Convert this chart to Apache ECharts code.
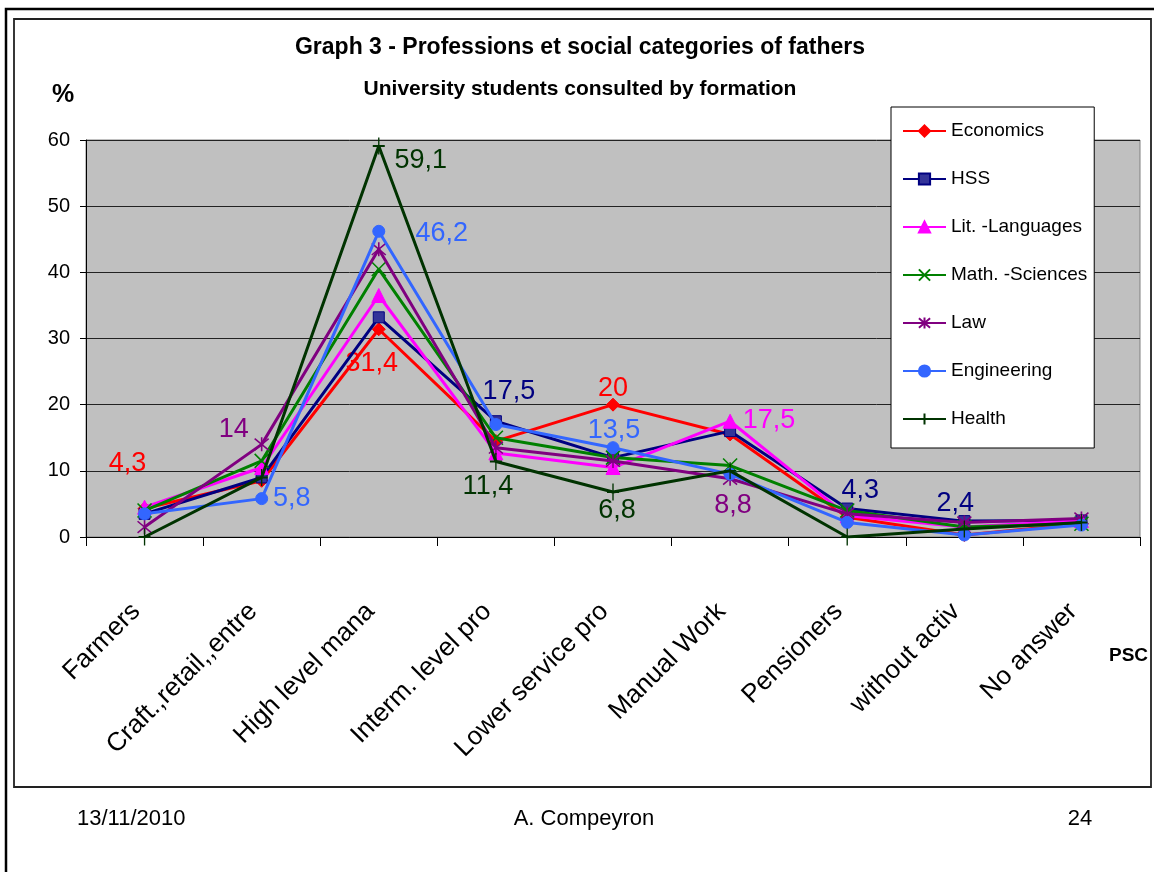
<!DOCTYPE html>
<html>
<head>
<meta charset="utf-8">
<script src="https://cdn.jsdelivr.net/npm/echarts@6/dist/echarts.min.js"></script>
<style>
html,body{margin:0;padding:0;background:#fff;}
#chart{width:1154px;height:872px;}
</style>
</head>
<body>
<div id="chart"></div>
<script>
// ---- data ----
const categories = ["Farmers", "Craft.,retail,,entre", "High level mana", "Interm. level pro", "Lower service pro", "Manual Work", "Pensioners", "without activ", "No answer"];
const seriesNames = ["Economics", "HSS", "Lit. -Languages", "Math. -Sciences", "Law", "Engineering", "Health"];
const economics   = [4.3, 8.5, 31.4, 14.5, 20, 15.5, 3, 0.3, 2];
const hss         = [3.5, 9, 33.2, 17.5, 12, 16, 4.3, 2.4, 2.5];
const literature  = [4.5, 10.5, 36.5, 12.7, 10.5, 17.5, 3.2, 1.5, 2.5];
const mathSci     = [4, 11.5, 40.5, 15, 12, 10.8, 4, 1.5, 2];
const law         = [1.5, 14, 43.5, 13.5, 11.5, 8.8, 3.5, 2.2, 2.8];
const engineering = [3.5, 5.8, 46.2, 17, 13.5, 9.5, 2.2, 0.3, 1.8];
const health      = [0, 9, 59.1, 11.4, 6.8, 10, 0, 1.2, 2.2];
const yTicks = [0, 10, 20, 30, 40, 50, 60];

// ---- styling ----
const FONT = '"Liberation Sans", Arial, sans-serif';

const styles = [
  {data: economics,   color: '#FF0000', symbol: 'diamond', size: 13, fill: '#FF0000'},
  {data: hss,         color: '#000080', symbol: 'rect', size: 11, fill: '#333399'},
  {data: literature,  color: '#FF00FF', symbol: 'triangle', size: 14, fill: '#FF00FF'},
  {data: mathSci,     color: '#008000', symbol: 'path://M0 0L10 10M10 0L0 10', size: 14, stroke: true},
  {data: law,         color: '#800080', symbol: 'path://M0 0L10 10M10 0L0 10M5 -1L5 11', size: 14, stroke: true},
  {data: engineering, color: '#3366FF', symbol: 'circle', size: 12, fill: '#3366FF'},
  {data: health,      color: '#003300', symbol: 'path://M6 0L6 16M0 8L12 8', size: [12, 17], stroke: true}
];

// which points carry a value label, with offsets from the point
const labelSpec = [
  {0: [-17, -45], 2: [-7, 34], 4: [0, -16]},
  {3: [13, -30], 6: [13, -18], 7: [-9, -18]},
  {5: [39, -1]},
  {},
  {1: [-28, -15], 5: [3, 27]},
  {1: [30, 0], 2: [63, 2], 4: [1, -17]},
  {2: [42, 15], 3: [-8, 25], 4: [4, 19]}
];

function fmt(v) { return String(v).replace('.', ','); }

const series = styles.map((s, si) => ({
  name: seriesNames[si],
  type: 'line',
  data: s.data.map((v, i) => {
    const spec = labelSpec[si][i];
    if (!spec) return v;
    return {
      value: v,
      label: {
        show: true, position: 'inside', offset: spec,
        formatter: p => fmt(p.value),
        color: s.color, fontFamily: FONT, fontSize: 27
      }
    };
  }),
  symbol: s.symbol,
  symbolSize: s.size,
  showAllSymbol: true,
  lineStyle: {color: s.color, width: 3},
  itemStyle: s.stroke
    ? {color: s.color, borderColor: s.color, borderWidth: 1.6}
    : {color: s.fill, borderColor: s.color, borderWidth: 1},
  emphasis: {disabled: true},
  animation: false,
  z: 2 + si
}));

const chart = echarts.init(document.getElementById('chart'), null, {renderer: 'canvas'});
chart.setOption({
  backgroundColor: '#fff',
  animation: false,
  grid: {
    left: 86, top: 140, right: 14, bottom: 335,
    show: true, backgroundColor: '#C0C0C0', borderColor: '#808080', borderWidth: 1,
    outerBoundsMode: 'none', containLabel: false
  },
  legend: {
    orient: 'vertical', left: 891, top: 107,
    padding: [13, 7, 18, 11],
    itemWidth: 43, itemHeight: 14, itemGap: 26,
    backgroundColor: '#fff', borderColor: '#000', borderWidth: 1,
    textStyle: {fontFamily: FONT, fontSize: 19, color: '#000', lineHeight: 22},
    selectedMode: false,
    data: seriesNames
  },
  xAxis: {
    type: 'category', data: categories, boundaryGap: true,
    axisLine: {lineStyle: {color: '#000', width: 1}},
    axisTick: {show: true, interval: 0, length: 9, lineStyle: {color: '#000'}},
    axisLabel: {
      interval: 0, rotate: 45, margin: 62, padding: [0, 12, 0, 0],
      fontFamily: FONT, fontSize: 26, color: '#000'
    },
    splitLine: {show: false}
  },
  yAxis: {
    type: 'value', min: yTicks[0], max: yTicks[yTicks.length - 1], interval: 10,
    axisLine: {show: true, lineStyle: {color: '#000', width: 1}},
    axisTick: {show: true, length: 6, lineStyle: {color: '#000'}},
    axisLabel: {fontFamily: FONT, fontSize: 20, color: '#000', margin: 16},
    splitLine: {show: true, lineStyle: {color: '#222', width: 1}}
  },
  graphic: [
    {type: 'rect', silent: true, z: -10, shape: {x: 6, y: 9, width: 1170, height: 880}, style: {fill: 'none', stroke: '#000', lineWidth: 2.5}},
    {type: 'rect', silent: true, z: -10, shape: {x: 14, y: 19, width: 1137, height: 768}, style: {fill: 'none', stroke: '#222', lineWidth: 1.8}},
    {type: 'text', x: 580, y: 48, style: {text: 'Graph 3 - Professions et social categories of fathers', fontFamily: FONT, fontWeight: 'bold', fontSize: 23, fill: '#000', align: 'center', verticalAlign: 'middle'}},
    {type: 'text', x: 580, y: 89, style: {text: 'University students consulted by formation', fontFamily: FONT, fontWeight: 'bold', fontSize: 21, fill: '#000', align: 'center', verticalAlign: 'middle'}},
    {type: 'text', x: 63, y: 95, style: {text: '%', fontFamily: FONT, fontWeight: 'bold', fontSize: 25, fill: '#000', align: 'center', verticalAlign: 'middle'}},
    {type: 'text', x: 1109, y: 656, style: {text: 'PSC', fontFamily: FONT, fontWeight: 'bold', fontSize: 19, fill: '#000', align: 'left', verticalAlign: 'middle'}},
    {type: 'text', x: 77, y: 819, style: {text: '13/11/2010', fontFamily: FONT, fontSize: 22, fill: '#000', align: 'left', verticalAlign: 'middle'}},
    {type: 'text', x: 584, y: 819, style: {text: 'A. Compeyron', fontFamily: FONT, fontSize: 22, fill: '#000', align: 'center', verticalAlign: 'middle'}},
    {type: 'text', x: 1080, y: 819, style: {text: '24', fontFamily: FONT, fontSize: 22, fill: '#000', align: 'center', verticalAlign: 'middle'}}
  ],
  series: series
});
</script>
</body>
</html>
